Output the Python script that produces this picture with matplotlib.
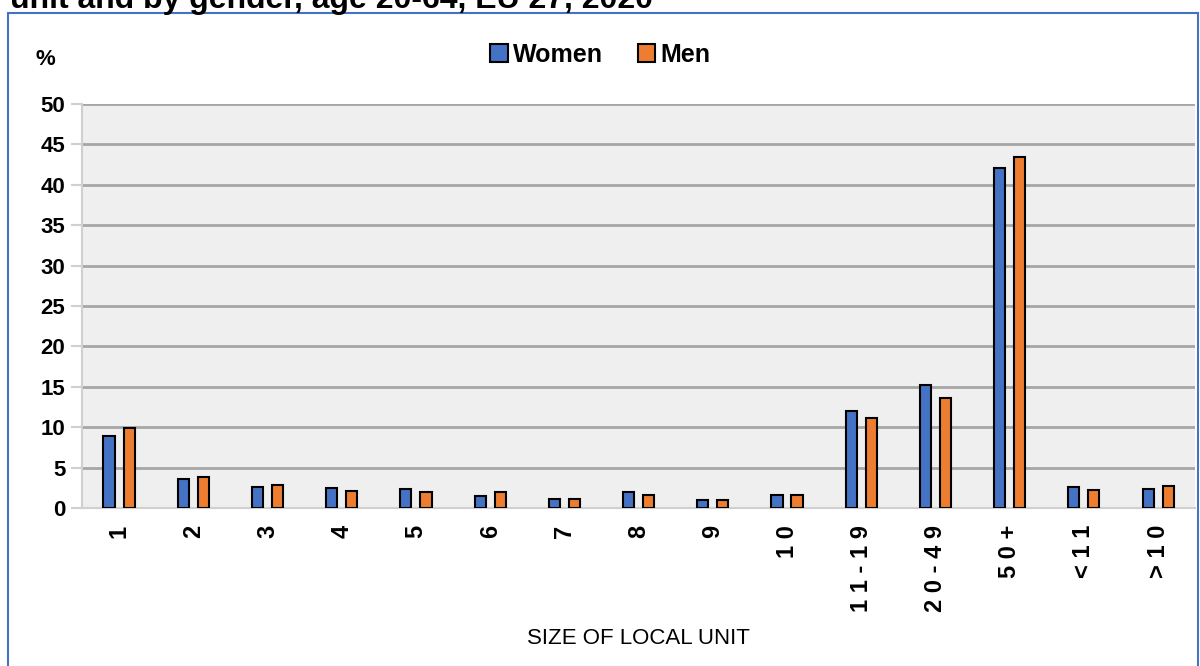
import numpy as np
import matplotlib.pyplot as plt
from matplotlib.patches import Rectangle

plt.rcParams['font.family'] = ['Liberation Sans', 'DejaVu Sans']

sizes = ['1', '2', '3', '4', '5', '6', '7', '8', '9', '10',
         '11-19', '20-49', '50+', '<11', '>10']
women = [8.9, 3.6, 2.6, 2.5, 2.3, 1.5, 1.1, 2.0, 1.0, 1.6, 12.0, 15.2, 42.1, 2.6, 2.4]
men = [9.9, 3.8, 2.8, 2.1, 2.0, 2.0, 1.1, 1.6, 1.0, 1.6, 11.1, 13.6, 43.4, 2.2, 2.7]

blue = '#4472C4'
orange = '#ED7D31'

fig = plt.figure(figsize=(12, 6.66), dpi=100)
ax = fig.add_axes([0.0683, 0.2372, 0.9277, 0.6066])

# outer chart frame
fig.patches.append(Rectangle((0.007, -0.01), 0.991, 0.99, transform=fig.transFigure,
                             fill=False, edgecolor='#4472C4', linewidth=1.5))
fig.text(0.008, 0.988, 'unit and by gender, age 20-64, EU 27, 2020', fontsize=23,
         fontweight='bold', va='baseline', ha='left')

x = np.arange(len(sizes))
w = 0.15
ax.bar(x - 0.135, women, w, color=blue, edgecolor='black', linewidth=1.5, label='Women', zorder=3)
ax.bar(x + 0.135, men, w, color=orange, edgecolor='black', linewidth=1.5, label='Men', zorder=3)

ax.set_facecolor('#EFEFEF')
ax.set_xlim(-0.5, len(sizes) - 0.5)
ax.set_ylim(0, 50)
ax.set_yticks(np.arange(0, 51, 5))
ax.yaxis.grid(True, color='#A6A6A6', linewidth=2, zorder=0)
for s in ['top', 'right']:
    ax.spines[s].set_visible(False)
ax.spines['left'].set_color('#D0D0D0')
ax.spines['bottom'].set_color('#D0D0D0')
ax.spines['left'].set_linewidth(1.5)
ax.spines['bottom'].set_linewidth(1.5)

# tick labels are letter-spaced
ax.set_xticks(x)
ax.set_xticklabels([' '.join(s) for s in sizes], rotation=90, fontsize=17, fontweight='bold')
ax.tick_params(axis='x', length=0, pad=12)
ax.tick_params(axis='y', length=8, color='#D0D0D0', width=1.5, labelsize=16, pad=4)
for t in ax.get_yticklabels():
    t.set_fontweight('bold')

ax.set_xlabel('SIZE OF LOCAL UNIT', fontsize=16, labelpad=12)
fig.text(0.038, 0.91, '%', fontsize=16, fontweight='bold', ha='center', va='center')

leg = fig.legend(loc='center', bbox_to_anchor=(0.5, 0.918), ncol=2, frameon=False,
                 prop={'size': 18, 'weight': 'bold'}, handlelength=0.7, handleheight=0.7,
                 handletextpad=0.2, columnspacing=1.4)
for p in leg.get_patches():
    p.set_edgecolor('black')
    p.set_linewidth(1.5)

fig.savefig('out.png', dpi=100)
